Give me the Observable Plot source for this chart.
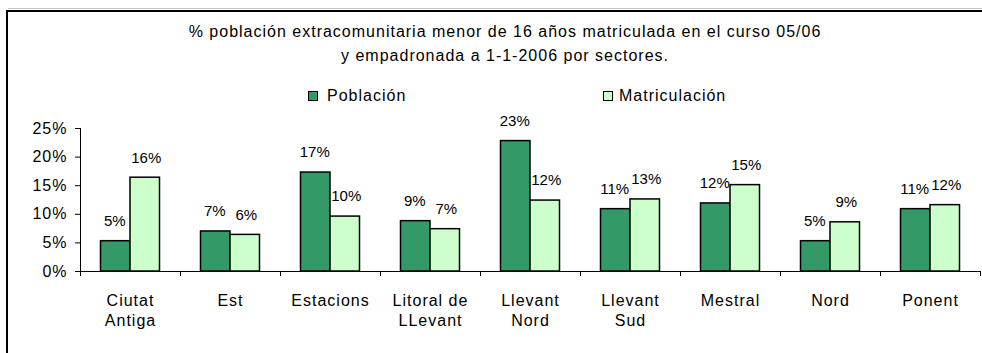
<!DOCTYPE html>
<html>
<head>
<meta charset="utf-8">
<script src="https://cdn.jsdelivr.net/npm/d3@7"></script>
<script src="https://cdn.jsdelivr.net/npm/@observablehq/plot@0.6"></script>
<style>
  body { margin: 0; background: #fff; }
  #chart {
    position: relative; width: 982px; height: 353px; overflow: hidden;
    font-family: "Liberation Sans", Arial, sans-serif; font-size: 16px;
    letter-spacing: 1px; color: #000; background: #fff;
  }
  #chart .shade { position: absolute; left: 8px; top: 8px; width: 1200px; border-top: 1px solid #c4c4c4; }
  #chart .frame {
    position: absolute; left: 6px; top: 10px; width: 1200px; height: 600px;
    border-top: 2px solid #000; border-left: 2px solid #000;
  }
  #chart .title { position: absolute; left: 0; top: 20px; width: 1010px; text-align: center; line-height: 24px; }
  #chart .key { position: absolute; top: 84px; line-height: 24px; white-space: nowrap; }
  #chart .swatch {
    position: absolute; top: 7px; width: 8px; height: 8px; border: 1px solid #000;
  }
  #chart .plot { position: absolute; left: 0; top: 110px; }
  /* value labels above the bars are set tighter than the axes */
  #plot svg g[aria-label="text"] text { letter-spacing: 0; }
</style>
</head>
<body>
<div id="chart">
  <div class="shade"></div>
  <div class="frame"></div>
  <div class="title">% población extracomunitaria menor de 16 años matriculada en el curso 05/06<br>y empadronada a 1-1-2006 por sectores.</div>
  <div class="key" style="left:308px"><span class="swatch" style="left:0;background:#339966"></span><span style="padding-left:19px">Población</span></div>
  <div class="key" style="left:603px"><span class="swatch" style="left:0;background:#ccffcc"></span><span style="padding-left:16px">Matriculación</span></div>
  <div class="plot" id="plot"></div>
</div>
<script>
// Sectors and their axis labels (line breaks as shown under the axis)
const sectors = ["Ciutat Antiga", "Est", "Estacions", "Litoral de LLevant", "Llevant Nord", "Llevant Sud", "Mestral", "Nord", "Ponent"];
const sectorLabels = ["Ciutat\nAntiga", "Est", "Estacions", "Litoral de\nLLevant", "Llevant\nNord", "Llevant\nSud", "Mestral", "Nord", "Ponent"];

// Share (%) of non-EU population under 16: registered vs. enrolled in school
const poblacion = [5.3, 7.0, 17.3, 8.8, 22.8, 10.9, 11.9, 5.3, 10.9];
const matriculacion = [16.4, 6.4, 9.6, 7.4, 12.4, 12.6, 15.1, 8.6, 11.6];

const yTicks = [0, 5, 10, 15, 20, 25];

const rows = sectors.map((sector, i) => ({sector, poblacion: poblacion[i], matriculacion: matriculacion[i]}));

const width = 982, height = 243;
const marginLeft = 80, marginRight = 2, marginTop = 18, marginBottom = 82;
const half = (width - marginLeft - marginRight) / sectors.length / 2;
const barW = 29.5;
const pct = v => Math.round(v) + "%";

const barStyle = {stroke: "#000", strokeWidth: 1.5};
const labelStyle = {fontSize: 15, dy: -20};

const chart = Plot.plot({
  width, height, marginLeft, marginRight, marginTop, marginBottom,
  style: {fontFamily: "'Liberation Sans', Arial, sans-serif", fontSize: "16px", color: "#000", letterSpacing: "1px", background: "transparent", overflow: "visible"},
  x: {domain: sectors, padding: 0, axis: null},
  y: {domain: [0, 25], ticks: yTicks, tickFormat: d => d + "%", tickSize: 5, tickPadding: 8, line: true, label: null},
  marks: [
    Plot.barY(rows, {x: "sector", y: "poblacion", fill: "#339966", ...barStyle, insetLeft: half - barW, insetRight: half}),
    Plot.barY(rows, {x: "sector", y: "matriculacion", fill: "#ccffcc", ...barStyle, insetLeft: half, insetRight: half - barW}),
    Plot.ruleY([0], {stroke: "#000"}),
    // category separators below the baseline
    Plot.ruleX(sectors, {x: d => d, y1: 0, y2: 0, insetBottom: -5, dx: -half, stroke: "#000"}),
    Plot.ruleX(sectors.slice(-1), {x: d => d, y1: 0, y2: 0, insetBottom: -5, dx: half, stroke: "#000"}),
    Plot.text(rows, {x: "sector", y: "poblacion", text: d => pct(d.poblacion), dx: -barW / 2 - 1, ...labelStyle}),
    Plot.text(rows, {x: "sector", y: "matriculacion", text: d => pct(d.matriculacion), dx: barW / 2 + 1, ...labelStyle}),
    Plot.axisX({tickSize: 0, tickPadding: 20, lineHeight: 1.25, label: null, tickFormat: d => sectorLabels[sectors.indexOf(d)]})
  ]
});
document.getElementById("plot").appendChild(chart);
</script>
</body>
</html>
